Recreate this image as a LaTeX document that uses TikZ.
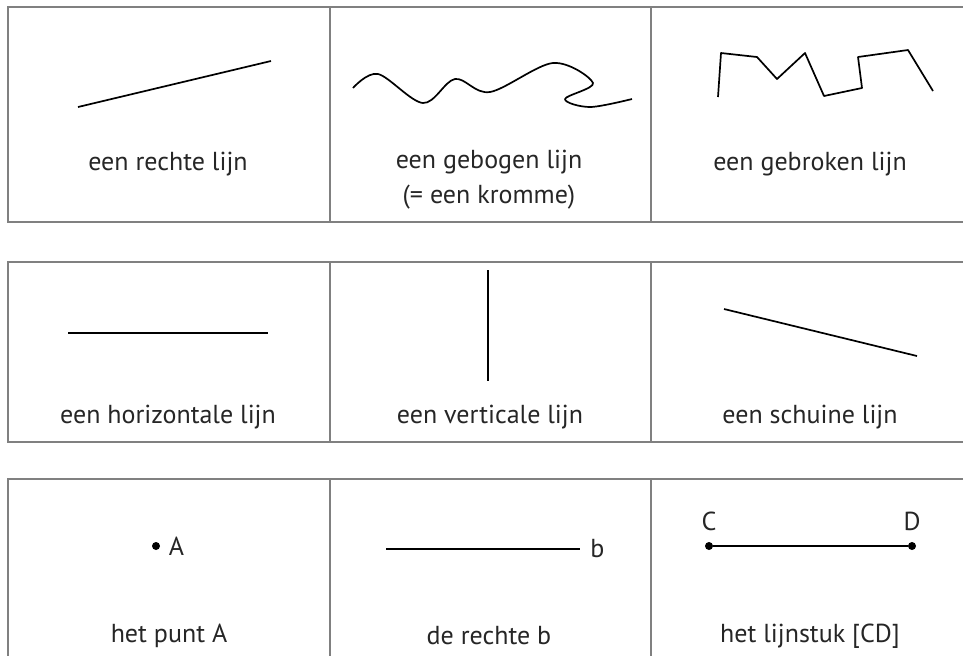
\documentclass[tikz,border=0pt]{standalone}
\usepackage{fontspec}
\setmainfont{PT Sans}
\usetikzlibrary{positioning}

\begin{document}
\begin{tikzpicture}
    [
        x=0.5pt, y=-0.5pt,
        cell/.style={draw=black!50, line width=0.8pt},
        figline/.style={line width=0.85pt, line join=round},
        caption/.style={font=\fontsize{13}{17.5}\selectfont, text=black!85, inner sep=0pt, align=center},
        dot/.style={circle, fill, inner sep=0pt, minimum size=4pt},
    ]
    \useasboundingbox (0,0) rectangle (963,655);
    \clip (0,0) rectangle (963,655);

    % three rows of three cells, cut off at the right and bottom
    \foreach \top/\bot in {7/222, 262/442, 479/700}
    {
        \draw[cell] (8,\top) rectangle (990,\bot);
        \draw[cell] (330,\top) -- (330,\bot);
        \draw[cell] (651,\top) -- (651,\bot);
    }

    % row 1
    \coordinate (r1) at (78,107);
    \coordinate (r2) at (271,61);
    \draw[figline] (r1) -- (r2);
    \node[caption] (rechte) at (168,164) {een rechte lijn};

    \draw[figline] plot[smooth, tension=0.55] coordinates
        {(353,88) (378,74) (423,103) (455,79) (490,92) (553,63) (593,83) (565,99) (590,107) (632,99)};
    \node[caption] (gebogen) at (489,180) {een gebogen lijn\\(= een kromme)};

    \draw[figline] (718,97) -- (721,53) -- (757,57) -- (777,79) -- (805,53) -- (824,96)
        -- (862,88) -- (858,57) -- (908,50) -- (933,91);
    \node[caption] (gebroken) at (810,164) {een gebroken lijn};

    % row 2
    \coordinate (h1) at (68,333);
    \coordinate (h2) at (268,333);
    \draw[figline] (h1) -- (h2);
    \node[caption] (horizontaal) at (168,417) {een horizontale lijn};

    \coordinate (v1) at (488,270);
    \coordinate (v2) at (488,381);
    \draw[figline] (v1) -- (v2);
    \node[caption] (verticaal) at (490,417) {een verticale lijn};

    \coordinate (s1) at (724,309);
    \coordinate (s2) at (917,356);
    \draw[figline] (s1) -- (s2);
    \node[caption] (schuin) at (810,417) {een schuine lijn};

    % row 3
    \node[dot] (A) at (156,546) {};
    \node[caption, right=4pt of A] (Alabel) {A};
    \node[caption] (punt) at (169,636) {het punt A};

    \coordinate (b1) at (386,549);
    \coordinate (b2) at (580,549);
    \draw[figline] (b1) -- (b2);
    \node[caption, right=5pt of b2] (blabel) {b};
    \node[caption] (rechteb) at (489,636) {de rechte b};

    \node[dot] (C) at (709,546) {};
    \node[dot] (D) at (912,546) {};
    \draw[figline] (C) -- (D);
    \node[caption, above=5pt of C] (Clabel) {C};
    \node[caption, above=5pt of D] (Dlabel) {D};
    \node[caption] (lijnstuk) at (810,636) {het lijnstuk [CD]};
\end{tikzpicture}
\end{document}
